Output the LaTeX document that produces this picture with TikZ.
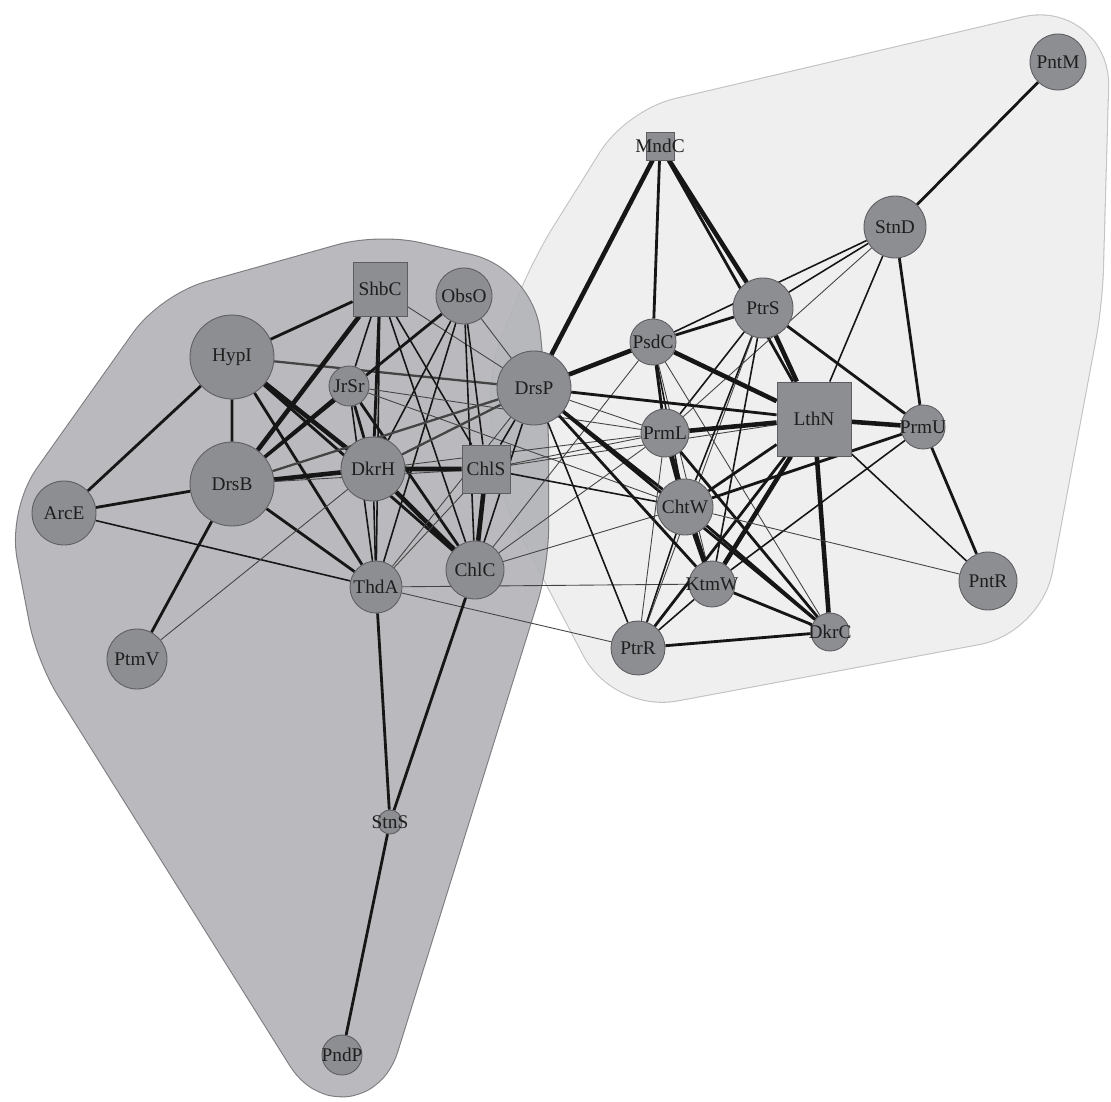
\documentclass[tikz,border=0pt]{standalone}
\usepackage{fontspec}
\setmainfont{Liberation Serif}
\usetikzlibrary{backgrounds}
\definecolor{nwNode}{HTML}{8D8E92}
\definecolor{nwNodeLine}{HTML}{5E5E62}
\definecolor{nwText}{HTML}{1E1E1E}
\definecolor{nwLeft}{HTML}{B2B3B7}
\definecolor{nwLeftLine}{HTML}{6E6E72}
\definecolor{nwRight}{HTML}{EFEFEF}
\definecolor{nwRightLine}{HTML}{C2C2C2}
\definecolor{nwEdge}{HTML}{161616}
\definecolor{nwGrey}{HTML}{444444}
\tikzset{
    nwCircle/.style={circle, draw=nwNodeLine, fill=nwNode, line width=0.5pt, inner sep=0pt, minimum size=#1*0.2mm},
    nwSquare/.style={rectangle, draw=nwNodeLine, fill=nwNode, line width=0.5pt, inner sep=0pt, minimum size=#1*0.2mm},
    every label/.style={font=\fontsize{11}{13}\selectfont, text=nwText, inner sep=0pt},
    % hull = rounded inner outline, widened by a round-joined stroke
    nwHullRim/.style={draw=#1, line width=1.8cm+1.2pt, line join=round, rounded corners=18pt},
    nwHullBody/.style={draw=#1, fill=#1, line width=1.8cm, line join=round, rounded corners=18pt},
    % edge weights
    nwThin/.style={nwGrey, line width=0.5pt},
    nwMid/.style={nwEdge, line width=0.9pt},
    nwThick/.style={nwEdge, line width=1.6pt},
    nwHeavy/.style={nwEdge, line width=2.6pt},
    nwShade/.style={nwGrey, line width=1.3pt}
}
\def\nwRightHull{(655,150) -- (1064,54) -- (1057,300) -- (1002,594) -- (638,662) -- (543,480) -- (533,380) -- (575,278) -- cycle}
\def\nwLeftHull{(56,520) -- (188,334) -- (380,280) -- (492,306) -- (503,420) -- (503,560) -- (345,1068) -- (80,645) -- cycle}

\begin{document}
\begin{tikzpicture}[x=0.02cm, y=-0.02cm]
    \useasboundingbox (0,0) rectangle (1111,1101);

    % Right community
    \node[nwCircle=56, label=center:PntM] (PntM) at (1058,62) {};
    \node[nwSquare=28, label=center:MndC] (MndC) at (660,146) {};
    \node[nwCircle=62, label=center:StnD] (StnD) at (895,227) {};
    \node[nwCircle=60, label=center:PtrS] (PtrS) at (763,308) {};
    \node[nwCircle=46, label=center:PsdC] (PsdC) at (653,342) {};
    \node[nwCircle=74, label=center:DrsP] (DrsP) at (534,388) {};
    \node[nwCircle=48, label=center:PrmL] (PrmL) at (665,433) {};
    \node[nwSquare=74, label=center:LthN] (LthN) at (814,419) {};
    \node[nwCircle=44, label=center:PrmU] (PrmU) at (923,427) {};
    \node[nwCircle=56, label=center:ChtW] (ChtW) at (685,507) {};
    \node[nwCircle=46, label=center:KtmW] (KtmW) at (712,584) {};
    \node[nwCircle=38, label=center:DkrC] (DkrC) at (830,632) {};
    \node[nwCircle=54, label=center:PtrR] (PtrR) at (638,648) {};
    \node[nwCircle=58, label=center:PntR] (PntR) at (988,581) {};

    % Left community
    \node[nwSquare=54, label=center:ShbC] (ShbC) at (380,289) {};
    \node[nwCircle=56, label=center:ObsO] (ObsO) at (464,296) {};
    \node[nwCircle=84, label=center:HypI] (HypI) at (232,357) {};
    \node[nwCircle=40, label=center:JrSr] (JrSr) at (349,386) {};
    \node[nwCircle=84, label=center:DrsB] (DrsB) at (232,484) {};
    \node[nwCircle=64, label=center:DkrH] (DkrH) at (373,469) {};
    \node[nwSquare=48, label=center:ChlS] (ChlS) at (486,469) {};
    \node[nwCircle=64, label=center:ArcE] (ArcE) at (64,513) {};
    \node[nwCircle=52, label=center:ThdA] (ThdA) at (376,587) {};
    \node[nwCircle=58, label=center:ChlC] (ChlC) at (475,570) {};
    \node[nwCircle=60, label=center:PtmV] (PtmV) at (137,659) {};
    \node[nwCircle=24, label=center:StnS] (StnS) at (390,822) {};
    \node[nwCircle=40, label=center:PndP] (PndP) at (342,1055) {};

    \begin{scope}[on background layer]
    % Community hulls
    \draw[nwHullRim=nwRightLine] \nwRightHull;
    \filldraw[nwHullBody=nwRight] \nwRightHull;
    \begin{scope}[transparency group, opacity=0.9]
        \draw[nwHullRim=nwLeftLine] \nwLeftHull;
        \filldraw[nwHullBody=nwLeft] \nwLeftHull;
    \end{scope}

    % Edges, left community
    \draw[nwThick] (HypI) -- (ShbC) (HypI) -- (ArcE) (HypI) -- (DrsB) (HypI) -- (ThdA) (HypI) -- (ChlC);
    \draw[nwHeavy] (HypI) -- (DkrH);
    \draw[nwShade] (HypI) -- (DrsP);
    \draw[nwHeavy] (ShbC) -- (DrsB);
    \draw[nwThick] (ShbC) -- (DkrH);
    \draw[nwMid] (ShbC) -- (JrSr) (ShbC) -- (ThdA) (ShbC) -- (ChlC) (ShbC) -- (ChlS);
    \draw[nwThin] (ShbC) -- (DrsP);
    \draw[nwThick] (ObsO) -- (DrsB);
    \draw[nwMid] (ObsO) -- (DkrH) (ObsO) -- (ThdA) (ObsO) -- (ChlC) (ObsO) -- (ChlS);
    \draw[nwThin] (ObsO) -- (DrsP);
    \draw[nwThick] (JrSr) -- (DrsB) (JrSr) -- (DkrH) (JrSr) -- (ChlC);
    \draw[nwMid] (JrSr) -- (ThdA);
    \draw[nwThin] (JrSr) -- (ChtW) (JrSr) -- (PrmL);
    \draw[nwHeavy] (DrsB) -- (DkrH);
    \draw[nwThick] (DrsB) -- (ArcE) (DrsB) -- (PtmV) (DrsB) -- (ThdA);
    \draw[nwShade] (DrsB) -- (DrsP);
    \draw[nwThin] (DrsB) -- (ChlS);
    \draw[nwMid] (ArcE) -- (ThdA);
    \draw[nwThin] (PtmV) -- (DkrH);
    \draw[nwHeavy] (DkrH) -- (ChlS) (DkrH) -- (ChlC);
    \draw[nwMid] (DkrH) -- (ThdA);
    \draw[nwShade] (DkrH) -- (DrsP);
    \draw[nwThin] (DkrH) -- (PrmL);
    \draw[nwHeavy] (ChlS) -- (ChlC);
    \draw[nwMid] (ChlS) -- (DrsP) (ChlS) -- (ChtW);
    \draw[nwThin] (ChlS) -- (PrmL) (ChlS) -- (LthN) (ChlS) -- (ThdA);
    \draw[nwThin] (ThdA) -- (KtmW) (ThdA) -- (PtrR) (ThdA) -- (DrsP);
    \draw[nwThick] (ThdA) -- (StnS) (ChlC) -- (StnS) (StnS) -- (PndP);
    \draw[nwMid] (ChlC) -- (DrsP);
    \draw[nwThin] (ChlC) -- (PsdC) (ChlC) -- (ChtW) (ChlC) -- (PrmL);

    % Edges, right community
    \draw[nwHeavy] (MndC) -- (DrsP) (MndC) -- (PtrS);
    \draw[nwThick] (MndC) -- (PsdC) (MndC) -- (LthN);
    \draw[nwThick] (StnD) -- (PntM) (StnD) -- (PrmU);
    \draw[nwMid] (StnD) -- (PtrS) (StnD) -- (PsdC) (StnD) -- (LthN);
    \draw[nwThin] (StnD) -- (PrmL);
    \draw[nwHeavy] (PtrS) -- (LthN);
    \draw[nwThick] (PtrS) -- (PsdC) (PtrS) -- (PrmU);
    \draw[nwMid] (PtrS) -- (PrmL) (PtrS) -- (ChtW) (PtrS) -- (KtmW);
    \draw[nwThin] (PtrS) -- (PtrR);
    \draw[nwHeavy] (PsdC) -- (DrsP) (PsdC) -- (LthN);
    \draw[nwThick] (PsdC) -- (PrmL);
    \draw[nwMid] (PsdC) -- (ChtW);
    \draw[nwThin] (PsdC) -- (KtmW) (PsdC) -- (DkrC);
    \draw[nwThick] (DrsP) -- (LthN) (DrsP) -- (ChtW) (DrsP) -- (KtmW) (DrsP) -- (DkrC);
    \draw[nwMid] (DrsP) -- (PtrR);
    \draw[nwThin] (DrsP) -- (PrmL);
    \draw[nwHeavy] (PrmL) -- (LthN) (PrmL) -- (ChtW);
    \draw[nwThick] (PrmL) -- (KtmW) (PrmL) -- (DkrC);
    \draw[nwThin] (PrmL) -- (PtrR);
    \draw[nwHeavy] (LthN) -- (PrmU) (LthN) -- (KtmW) (LthN) -- (DkrC);
    \draw[nwThick] (LthN) -- (ChtW) (LthN) -- (PtrR);
    \draw[nwMid] (LthN) -- (PntR);
    \draw[nwThick] (PrmU) -- (PntR) (PrmU) -- (ChtW);
    \draw[nwMid] (PrmU) -- (KtmW);
    \draw[nwHeavy] (ChtW) -- (KtmW);
    \draw[nwThick] (ChtW) -- (DkrC);
    \draw[nwMid] (ChtW) -- (PtrR);
    \draw[nwThin] (ChtW) -- (PntR);
    \draw[nwThick] (KtmW) -- (DkrC) (PtrR) -- (DkrC);
    \draw[nwMid] (KtmW) -- (PtrR);
    \end{scope}
\end{tikzpicture}
\end{document}
